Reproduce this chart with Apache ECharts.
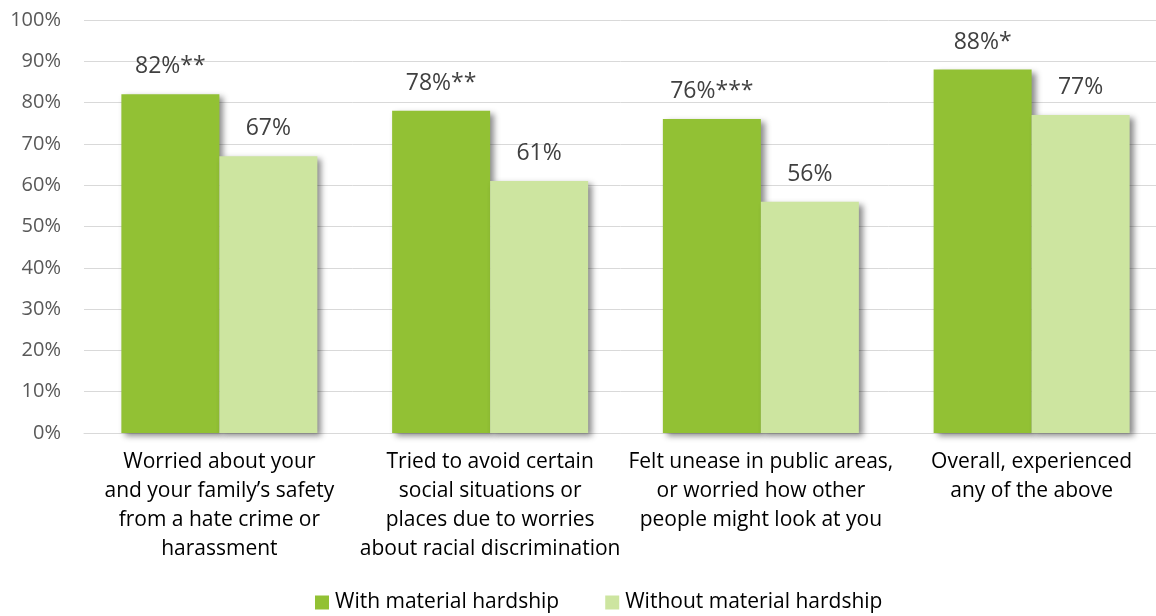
<!DOCTYPE html>
<html>
<head>
<meta charset="utf-8">
<script src="https://cdn.jsdelivr.net/npm/echarts@6/dist/echarts.min.js"></script>
<style>
html,body{margin:0;padding:0;background:#fff;}
#chart{width:1156px;height:616px;}
</style>
</head>
<body>
<div id="chart"></div>
<script>
const categories = [
  "Worried about your\nand your family\u2019s safety\nfrom a hate crime or\nharassment",
  "Tried to avoid certain\nsocial situations or\nplaces due to worries\nabout racial discrimination",
  "Felt unease in public areas,\nor worried how other\npeople might look at you",
  "Overall, experienced\nany of the above"
];
const seriesNames = ["With material hardship", "Without material hardship"];
const withHardship = [82, 78, 76, 88];
const withoutHardship = [67, 61, 56, 77];
const significance = ["**", "**", "***", "*"];
const yTicks = [0, 10, 20, 30, 40, 50, 60, 70, 80, 90, 100];

const FONT = "'Open Sans', 'Noto Sans', sans-serif";
const shadow = {shadowColor: 'rgba(0,0,0,0.45)', shadowBlur: 6, shadowOffsetX: 4, shadowOffsetY: 3};

const chart = echarts.init(document.getElementById('chart'), null, {renderer: 'canvas'});
chart.setOption({
  animation: false,
  backgroundColor: '#ffffff',
  textStyle: {fontFamily: FONT},
  grid: {left: 84, width: 1083, top: 20, height: 413, containLabel: false, outerBoundsMode: 'none'},
  legend: {
    data: seriesNames,
    left: 315, top: 592, padding: 0,
    itemWidth: 14, itemHeight: 14, itemGap: 46,
    icon: 'rect',
    textStyle: {fontFamily: FONT, fontSize: 21, color: '#000000', padding: [0, 0, 0, 1]}
  },
  xAxis: {
    type: 'category',
    data: categories,
    axisLine: {show: true, lineStyle: {color: '#d9d9d9', width: 1}},
    axisTick: {show: false},
    axisLabel: {fontFamily: FONT, fontSize: 21, color: '#000000', lineHeight: 29, margin: 15, interval: 0, align: 'center'}
  },
  yAxis: {
    type: 'value',
    min: yTicks[0], max: yTicks[yTicks.length - 1], interval: 10,
    axisLine: {show: false},
    axisTick: {show: false},
    splitLine: {lineStyle: {color: '#d9d9d9', width: 1}},
    axisLabel: {fontFamily: FONT, fontSize: 20, color: '#595959', margin: 23, formatter: v => v + '%'}
  },
  series: [
    {
      name: seriesNames[0], type: 'bar', data: withHardship,
      barWidth: 98, barGap: '0%',
      itemStyle: Object.assign({color: '#92c134'}, shadow),
      label: {show: true, position: 'top', distance: 16, fontFamily: FONT, fontSize: 23, color: '#404040',
        formatter: p => p.value + '%' + significance[p.dataIndex]}
    },
    {
      name: seriesNames[1], type: 'bar', data: withoutHardship,
      barWidth: 98, barGap: '0%',
      itemStyle: Object.assign({color: '#cde5a0'}, shadow),
      label: {show: true, position: 'top', distance: 16, fontFamily: FONT, fontSize: 23, color: '#404040',
        formatter: p => p.value + '%'}
    }
  ]
});
</script>
</body>
</html>
